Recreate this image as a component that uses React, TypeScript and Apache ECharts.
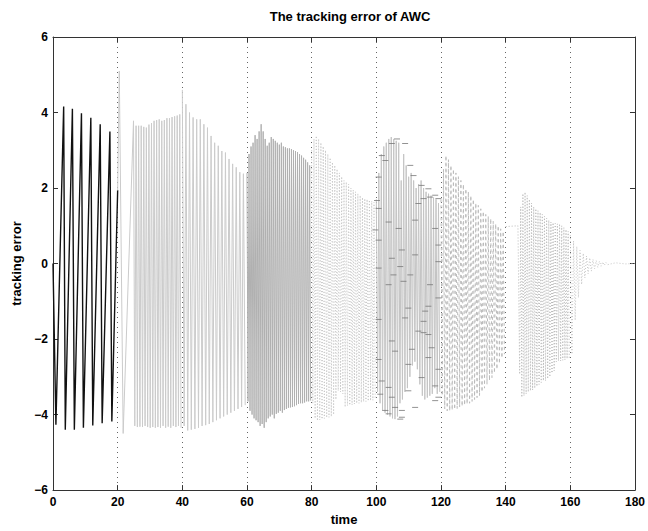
import React, { useEffect, useRef } from "react";
import * as echarts from "echarts";

// ---- data ----
const seg1Times = [0, 0.9, 3.3, 3.8, 6.0, 6.6, 8.8, 9.4, 11.7, 12.3, 14.6, 15.2, 17.6, 18.2, 20];
const seg1Values = [0, -4.27, 4.16, -4.4, 4.1, -4.4, 3.98, -4.35, 3.86, -4.29, 3.69, -4.23, 3.5, -4.18, 1.94];

const seg2HeadTimes = [20, 20.5, 21.7];
const seg2HeadValues = [1.94, 5.1, -4.5];
const seg2Range = [24.9, 40];
const seg2Tops = [3.78, 3.65, 3.65, 3.65, 3.62, 3.6, 3.68, 3.72, 3.78, 3.8, 3.82, 3.78, 3.8, 3.85, 3.85, 3.88, 3.9, 3.92, 3.95];
const seg2Bottoms = [-4.3, -4.33, -4.32, -4.33, -4.3, -4.33, -4.35, -4.33, -4.35, -4.33, -4.35, -4.3, -4.35, -4.32, -4.35, -4.3, -4.33, -4.3, -4.35];

const seg3Range = [40, 60];
const seg3Tops = [4.6, 4.22, 4.0, 3.87, 3.82, 3.82, 3.69, 3.6, 3.38, 3.2, 3.12, 2.98, 2.94, 2.77, 2.64, 2.55, 2.42, 2.38];
const seg3Bottoms = [-4.3, -4.42, -4.4, -4.38, -4.35, -4.3, -4.28, -4.25, -4.2, -4.15, -4.1, -4.05, -4.0, -3.95, -3.9, -3.85, -3.8, -3.75];

const seg4Range = [60, 80];
const seg4Tops = [2.4, 2.9, 3.1, 3.2, 3.4, 3.3, 3.5, 3.69, 3.5, 3.3, 3.12, 3.2, 3.35, 3.3, 3.25, 3.2, 3.15, 3.2, 3.1, 3.08, 3.05, 3.05, 3.03, 3.0, 2.98, 2.95, 2.9, 2.86, 2.8, 2.75, 2.68, 2.6];
const seg4Bottoms = [-3.65, -3.9, -4.0, -4.1, -4.15, -4.2, -4.3, -4.25, -4.35, -4.2, -4.1, -4.05, -4.0, -4.1, -3.98, -3.95, -3.9, -3.95, -3.88, -3.85, -3.82, -3.81, -3.8, -3.78, -3.75, -3.72, -3.7, -3.7, -3.68, -3.65, -3.65, -3.63];

const seg5Range = [80, 100];
const seg5Tops = [3.0, 3.3, 3.38, 3.3, 3.2, 3.1, 3.0, 2.9, 2.8, 2.68, 2.6, 2.5, 2.4, 2.3, 2.2, 2.16, 2.1, 2.0, 1.95, 1.9, 1.85, 1.8, 1.75, 1.72, 1.7, 1.68, 1.65, 1.62];
const seg5Bottoms = [-3.7, -4.1, -4.16, -4.14, -4.12, -4.1, -4.08, -4.07, -4.05, -4.0, -3.6, -3.37, -3.4, -3.45, -3.8, -3.76, -3.75, -3.74, -3.72, -3.7, -3.7, -3.68, -3.66, -3.65, -3.64, -3.63, -3.62, -3.6];

const seg6Range = [100, 120];
const seg6Tops = [1.7, 2.4, 2.9, 3.1, 3.2, 3.3, 3.35, 3.3, 3.25, 3.2, 2.2, 2.9, 2.6, 2.3, 2.4, 2.2, 2.0, 2.1, 2.2, 2.0, 1.9, 1.85, 1.8, 1.75, 1.7, 1.6];
const seg6Bottoms = [-3.4, -3.7, -3.9, -3.95, -4.0, -4.05, -4.1, -4.12, -4.05, -3.7, -3.6, -3.4, -3.3, -3.0, -2.7, -2.6, -2.8, -3.2, -3.5, -3.6, -3.55, -3.5, -3.45, -3.3, -3.45, -3.4];

const markerTimes = [104.8, 108.9, 106.4, 101.7, 102.8, 110.5, 111.5, 100.7, 114.0, 116.1, 118.2, 114.6, 116.6, 100.2, 119.2, 113.0, 100.7, 112.0, 118.2, 99.7, 103.8, 106.9, 100.7, 119.2, 107.9, 104.8, 112.0, 107.4, 105.3, 110.5, 119.2, 100.7, 108.4, 116.6, 103.8, 119.2, 109.9, 116.1, 115.1, 108.9, 100.7, 114.6, 113.0, 114.6, 116.1, 104.8, 111.0, 117.1, 105.8, 116.1, 100.7, 109.9, 119.2, 114.0, 101.7, 118.2, 103.8, 109.9, 101.2, 104.8, 119.2, 118.2, 105.8, 107.9, 102.8, 103.8, 112.0, 107.9, 107.4];
const markerValues = [3.18, 3.18, 3.3, 2.86, 2.73, 2.6, 2.33, 2.29, 2.07, 1.98, 1.81, 1.72, 1.76, 1.67, 1.72, 1.59, 1.46, 1.15, 0.93, 0.89, 1.1, 0.93, 0.62, 0.49, 0.36, 0.14, 0.23, -0.08, -0.3, -0.3, 0.05, -0.12, -0.47, -0.56, -0.56, -0.91, -1.18, -1.13, -1.26, -1.44, -1.48, -1.53, -1.79, -1.83, -1.88, -2.05, -2.27, -2.23, -2.32, -2.49, -2.54, -2.67, -2.8, -3.02, -3.11, -3.24, -3.28, -3.37, -3.46, -3.54, -3.54, -3.63, -3.81, -3.89, -3.89, -3.98, -3.81, -4.07, -4.12];

const seg7Range = [120, 140];
const seg7Tops = [1.7, 2.5, 2.86, 2.75, 2.6, 2.5, 2.4, 2.3, 2.2, 2.1, 1.98, 1.9, 1.8, 1.7, 1.6, 1.54, 1.45, 1.38, 1.3, 1.25, 1.19, 1.12, 1.05, 1.0, 0.92, 0.85];
const seg7Bottoms = [-3.5, -3.85, -3.9, -3.9, -3.88, -3.86, -3.84, -3.8, -3.78, -3.75, -3.72, -3.7, -3.65, -3.6, -3.55, -3.5, -3.4, -3.3, -3.2, -3.1, -3.02, -2.9, -2.8, -2.65, -2.5, -2.4];

const seg8HeadTimes = [140, 143.8];
const seg8HeadValues = [0.98, 1.0];
const seg8Range = [144, 160];
const seg8Tops = [1.0, 1.5, 1.85, 1.89, 1.8, 1.7, 1.6, 1.5, 1.45, 1.4, 1.35, 1.3, 1.25, 1.2, 1.15, 1.1, 1.08, 1.06, 1.05, 1.05, 1.0, 0.95, 0.9, 0.85];
const seg8Bottoms = [-2.93, -3.54, -3.5, -3.45, -3.4, -3.37, -3.35, -3.3, -3.25, -3.2, -3.15, -3.1, -3.1, -3.05, -3.0, -2.9, -2.84, -2.6, -2.58, -2.58, -2.56, -2.55, -2.52, -2.5];

const seg9Range = [160, 172];
const seg9Tops = [0.75, 0.6, 0.45, 0.35, 0.27, 0.2, 0.15, 0.11, 0.08, 0.06, 0.04, 0.03];
const seg9Bottoms = [-2.4, -1.5, -0.9, -0.55, -0.38, -0.27, -0.2, -0.14, -0.1, -0.07, -0.05, -0.03];
const seg9TailTimes = [174, 177, 180];
const seg9TailValues = [0.02, -0.01, 0];

const zip = (t: number[], v: number[]) => t.map((x, i) => [x, v[i]]);
const spikes = (range: number[], tops: number[], bottoms: number[]) => {
  const p = (range[1] - range[0]) / tops.length;
  const out: number[][] = [];
  tops.forEach((tv, i) => {
    out.push([range[0] + i * p, tv]);
    out.push([range[0] + (i + 0.5) * p, bottoms[i]]);
  });
  return out;
};

const FONT = "'Liberation Sans', Arial, Helvetica, sans-serif";

export default function App() {
  const ref = useRef<HTMLDivElement>(null);
  useEffect(() => {
    if (!ref.current) return;
    const chart = echarts.init(ref.current, undefined, { renderer: "svg" });
    const line = (data: number[][], color: string, width: number, type: any = "solid") => ({
      type: "line",
      data,
      showSymbol: false,
      symbol: "none",
      silent: true,
      lineStyle: { color, width, type },
      z: 2,
    });
    const seg2 = [...zip(seg2HeadTimes, seg2HeadValues), ...spikes(seg2Range, seg2Tops, seg2Bottoms)];
    const seg3 = spikes(seg3Range, seg3Tops, seg3Bottoms);
    const seg4 = spikes(seg4Range, seg4Tops, seg4Bottoms);
    const seg5 = spikes(seg5Range, seg5Tops, seg5Bottoms);
    const seg6 = spikes(seg6Range, seg6Tops, seg6Bottoms);
    const seg7 = spikes(seg7Range, seg7Tops, seg7Bottoms);
    const seg8 = [...zip(seg8HeadTimes, seg8HeadValues), ...spikes(seg8Range, seg8Tops, seg8Bottoms)];
    const seg9 = [...spikes(seg9Range, seg9Tops, seg9Bottoms), ...zip(seg9TailTimes, seg9TailValues)];

    const axisLabel = { fontFamily: FONT, fontWeight: "bold", fontSize: 12, color: "#000" };
    const axisLine = { show: true, onZero: false, lineStyle: { color: "#333", width: 1 } };
    const axisTick = { show: true, inside: true, length: 5, lineStyle: { color: "#333" } };
    chart.setOption({
      animation: false,
      backgroundColor: "#fff",
      title: {
        text: "The tracking error of AWC",
        left: 345,
        top: 5,
        textAlign: "center",
        textStyle: { fontFamily: FONT, fontWeight: "bold", fontSize: 13, color: "#000" },
      },
      grid: { left: 53, right: 10, top: 37, bottom: 37, containLabel: false },
      xAxis: [
        {
          type: "value",
          min: 0,
          max: 180,
          interval: 20,
          position: "bottom",
          name: "time",
          nameLocation: "middle",
          nameGap: 22,
          nameTextStyle: { fontFamily: FONT, fontWeight: "bold", fontSize: 13, color: "#000" },
          axisLine,
          axisTick,
          axisLabel: { ...axisLabel, margin: 6 },
          splitLine: { show: true, lineStyle: { color: "#666", width: 1, type: [1, 4] } },
        },
        {
          type: "value",
          min: 0,
          max: 180,
          interval: 20,
          position: "top",
          axisLine,
          axisTick,
          axisLabel: { show: false },
          splitLine: { show: false },
        },
      ],
      yAxis: [
        {
          type: "value",
          min: -6,
          max: 6,
          interval: 2,
          position: "left",
          name: "tracking error",
          nameLocation: "middle",
          nameGap: 30,
          nameRotate: 90,
          nameTextStyle: { fontFamily: FONT, fontWeight: "bold", fontSize: 13, color: "#000" },
          axisLine,
          axisTick,
          axisLabel: { ...axisLabel, margin: 5, formatter: (v: number) => String(v).replace("-", "\u2212") },
          splitLine: { show: false },
        },
        {
          type: "value",
          min: -6,
          max: 6,
          interval: 2,
          position: "right",
          axisLine,
          axisTick,
          axisLabel: { show: false },
          splitLine: { show: false },
        },
      ],
      series: [
        line(zip(seg1Times, seg1Values), "#111", 1.4),
        line(seg2, "#cbcbcb", 1),
        line(seg3, "#cbcbcb", 1),
        line(seg4, "#b0b0b0", 1),
        line(seg5, "#c4c4c4", 1, [1, 2]),
        line(seg6, "#c4c4c4", 1),
        {
          type: "scatter",
          data: zip(markerTimes, markerValues),
          symbol: "rect",
          symbolSize: [6, 1],
          silent: true,
          itemStyle: { color: "#777" },
          z: 3,
        },
        line(seg7, "#bbbbbb", 1, [3, 3]),
        line(seg8, "#b8b8b8", 1, [1, 2]),
        line(seg9, "#c4c4c4", 1, [1, 2]),
      ],
    });
    return () => chart.dispose();
  }, []);
  return (
    <div
      ref={ref}
      style={{ position: "fixed", left: 0, top: 0, width: 648, height: 531, background: "#fff" }}
    />
  );
}
